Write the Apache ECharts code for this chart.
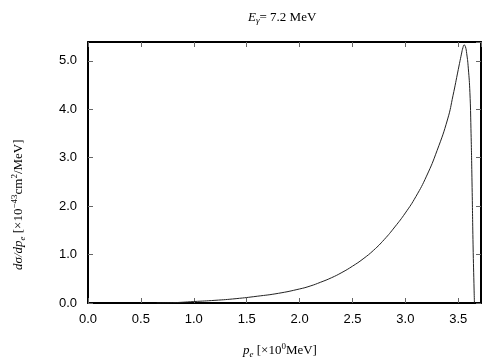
<!DOCTYPE html>
<html>
<head>
<meta charset="utf-8">
<script src="https://cdn.jsdelivr.net/npm/echarts@6/dist/echarts.min.js"></script>
<style>
  html, body { margin: 0; padding: 0; background: #fff; }
  #grid { width: 504px; height: 360px; }
</style>
</head>
<body>
<div id="grid"></div>
<script>
const myChart = echarts.init(document.getElementById('grid'));

// electron momentum p_e [MeV]
const pe = [0.65, 0.8, 1.0, 1.2, 1.4, 1.6, 1.8, 2.0, 2.1, 2.2, 2.3, 2.4, 2.5, 2.6, 2.7, 2.8, 2.9, 3.0,
  3.1, 3.2, 3.3, 3.4, 3.45, 3.5, 3.53, 3.545, 3.556, 3.567, 3.58, 3.595, 3.61, 3.62, 3.63, 3.64, 3.65, 3.653];
// dsigma/dp_e [1e-43 cm^2/MeV]
const dsig = [0, 0.006, 0.03, 0.055, 0.09, 0.14, 0.2, 0.29, 0.35, 0.43, 0.52, 0.63, 0.76, 0.91, 1.09,
  1.31, 1.57, 1.86, 2.2, 2.62, 3.15, 3.8, 4.28, 4.82, 5.14, 5.28, 5.33, 5.3, 5.15, 4.85, 4.35, 3.6, 2.5,
  1.2, 0.25, 0];

const xTicks = [0, 0.5, 1.0, 1.5, 2.0, 2.5, 3.0, 3.5];
const yTicks = [0, 1, 2, 3, 4, 5];

const serif = 'Liberation Serif';
const sans = 'Liberation Sans';

const tickStyle = { show: true, inside: true, length: 5, lineStyle: { color: '#666', width: 1 } };
const frameLine = { show: true, onZero: false, lineStyle: { color: '#000', width: 2 } };

const option = {
  animation: false,
  grid: { left: 88, right: 23, top: 42, bottom: 57 },
  xAxis: [
    {
      type: 'value',
      min: 0,
      max: 3.715,
      interval: 0.5,
      axisLine: frameLine,
      axisTick: tickStyle,
      splitLine: { show: false },
      axisLabel: {
        margin: 10,
        fontFamily: sans,
        fontSize: 13,
        color: '#000',
        showMaxLabel: false,
        formatter: (v) => (xTicks.some((t) => Math.abs(t - v) < 1e-6) ? v.toFixed(1) : ''),
      },
    },
    {
      type: 'value',
      position: 'top',
      min: 0,
      max: 3.715,
      interval: 0.5,
      axisLine: frameLine,
      axisTick: tickStyle,
      axisLabel: { show: false },
      splitLine: { show: false },
    },
  ],
  yAxis: [
    {
      type: 'value',
      min: 0,
      max: 5.39,
      interval: 1,
      axisLine: frameLine,
      axisTick: tickStyle,
      splitLine: { show: false },
      axisLabel: {
        margin: 11,
        fontFamily: sans,
        fontSize: 13,
        color: '#000',
        showMaxLabel: false,
        formatter: (v) => (yTicks.some((t) => Math.abs(t - v) < 1e-6) ? v.toFixed(1) : ''),
      },
    },
    {
      type: 'value',
      position: 'right',
      min: 0,
      max: 5.39,
      interval: 1,
      axisLine: frameLine,
      axisTick: tickStyle,
      axisLabel: { show: false },
      splitLine: { show: false },
    },
  ],
  graphic: [
    {
      type: 'text',
      left: 248,
      top: 11,
      style: {
        text: '{i|E}{sub|γ}{n|= 7.2 MeV}',
        rich: {
          i: { fontFamily: serif, fontStyle: 'italic', fontSize: 13, fill: '#000' },
          sub: { fontFamily: serif, fontStyle: 'italic', fontSize: 9, fill: '#000', padding: [6, 0, 0, 0] },
          n: { fontFamily: serif, fontSize: 13, fill: '#000' },
        },
      },
    },
    {
      type: 'text',
      left: 243,
      top: 342,
      style: {
        text: '{i|p}{sub|e}{n| [×10}{sup|0}{n|MeV]}',
        rich: {
          i: { fontFamily: serif, fontStyle: 'italic', fontSize: 13, fill: '#000' },
          sub: { fontFamily: serif, fontStyle: 'italic', fontSize: 9, fill: '#000', padding: [8, 0, 0, 0] },
          sup: { fontFamily: serif, fontSize: 9, fill: '#000', padding: [0, 0, 8, 0] },
          n: { fontFamily: serif, fontSize: 13, fill: '#000' },
        },
      },
    },
    {
      type: 'text',
      x: 10,
      y: 270,
      rotation: Math.PI / 2,
      style: {
        text: '{i|dσ/dp}{sub|e}{n| [×10}{sup|−43}{n|cm}{sup|2}{n|/MeV]}',
        rich: {
          i: { fontFamily: serif, fontStyle: 'italic', fontSize: 13, fill: '#000' },
          sub: { fontFamily: serif, fontStyle: 'italic', fontSize: 9, fill: '#000', padding: [8, 0, 0, 0] },
          sup: { fontFamily: serif, fontSize: 9, fill: '#000', padding: [0, 0, 8, 0] },
          n: { fontFamily: serif, fontSize: 13, fill: '#000' },
        },
      },
    },
  ],
  series: [
    {
      type: 'line',
      data: pe.map((x, i) => [x, dsig[i]]),
      showSymbol: false,
      smooth: 0.5,
      lineStyle: { color: '#222', width: 1 },
    },
  ],
};

myChart.setOption(option);
</script>
</body>
</html>
